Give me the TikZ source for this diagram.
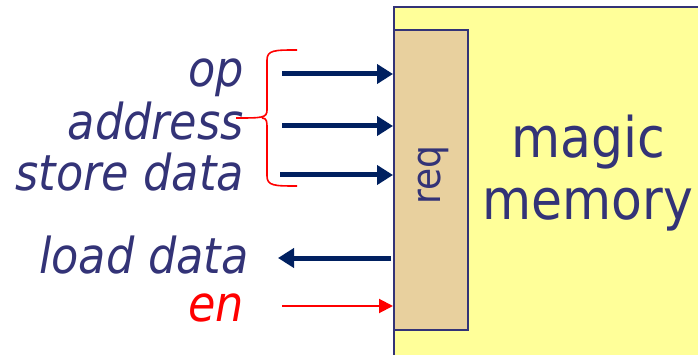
\documentclass[tikz,border=0pt]{standalone}
\usepackage{fontspec}
\setmainfont{DejaVu Sans Condensed}
\usetikzlibrary{arrows.meta}
\definecolor{inkblue}{RGB}{51,51,119}
\definecolor{navy}{RGB}{0,32,96}
\definecolor{memyellow}{RGB}{255,255,153}
\definecolor{reqtan}{RGB}{232,208,158}
\tikzset{
  lbl/.style={anchor=base east, inner sep=0pt, text=inkblue, font=\fontsize{49.5}{49.5}\selectfont\itshape},
  bus/.style={draw=navy, line width=5pt, -{Triangle[length=16pt,width=19pt]}},
  ctl/.style={draw=red, line width=2pt, -{Triangle[length=14pt,width=14pt]}},
}
\begin{document}
\begin{tikzpicture}[x=1pt,y=-1pt]
\useasboundingbox (0,0) rectangle (698,355);
\clip (0,0) rectangle (698,355);
% memory block and its request port
\node (mem) [draw=inkblue, line width=2pt, fill=memyellow, inner sep=0pt, minimum width=330pt, minimum height=380pt, anchor=north west] at (393,6) {};
\node (req) [draw=inkblue, line width=2pt, fill=reqtan, inner sep=0pt, minimum width=74pt, minimum height=300pt, anchor=north west] at (393,29) {};
\node (reqtxt) [rotate=90, anchor=base, text=inkblue, font=\fontsize{40}{40}\selectfont, inner sep=0pt] at (440,175) {req};
\node (magic) [anchor=base, inner sep=0pt, text=inkblue, font=\fontsize{56}{56}\selectfont] at (588,158) {magic};
\node (memory) [anchor=base, inner sep=0pt, text=inkblue, font=\fontsize{56}{56}\selectfont] at (588,220) {memory};
% signal names
\node (op) [lbl] at (244,87) {op};
\node (addr) [lbl] at (244,140) {address};
\node (sd) [lbl] at (244,191) {store data};
\node (ld) [lbl] at (249,273) {load data};
\node (en) [lbl, text=red] at (244,321) {en};
% arrow tails
\coordinate (opS) at (282,74);
\coordinate (addrS) at (282,126);
\coordinate (sdS) at (280,175);
\coordinate (ldE) at (278,258);
\coordinate (enS) at (282,306);
\draw[bus] (opS) -- (opS -| req.west);
\draw[bus] (addrS) -- (addrS -| req.west);
\draw[bus] (sdS) -- (sdS -| req.west);
\draw[bus] (ldE -| req.west) ++(-2,0) -- (ldE);
\draw[ctl] (enS) -- (enS -| req.west);
% brace grouping the request fields
\draw[red, line width=1.6pt] (297,50) .. controls (275,50) and (267,50) .. (267,60)
  -- (267,110) .. controls (267,118) and (262,118) .. (236,118)
  (262,118) .. controls (267,118) and (267,122) .. (267,128)
  -- (267,176) .. controls (267,186) and (275,186) .. (297,186);
\end{tikzpicture}
\end{document}
